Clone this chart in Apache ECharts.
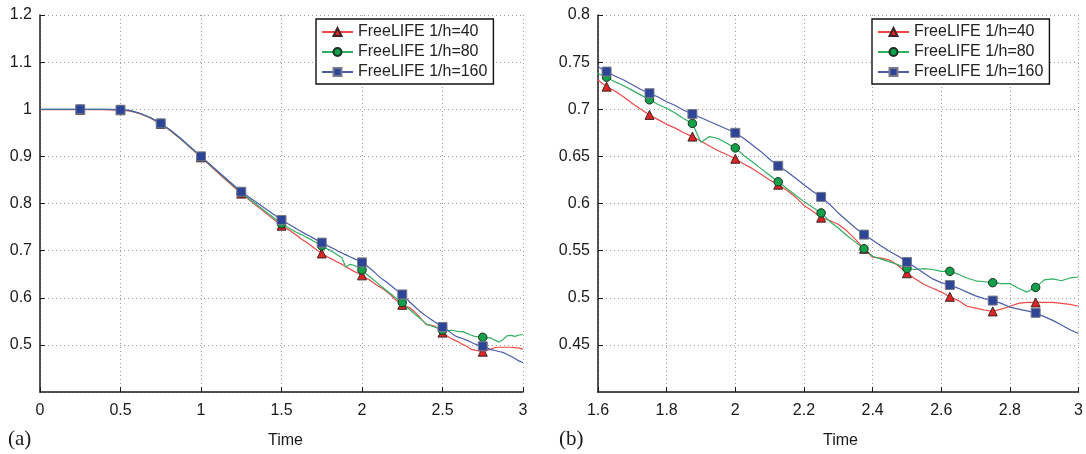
<!DOCTYPE html>
<html><head><meta charset="utf-8">
<script src="https://cdn.jsdelivr.net/npm/echarts@6/dist/echarts.min.js"></script>
<style>html,body{margin:0;padding:0;background:#fff}#c{width:1086px;height:454px}</style>
</head><body><div id="c"></div><script>
// ---- data ----
const time = [0,0.125,0.25,0.375,0.5,0.5625,0.625,0.6875,0.75,0.8125,0.875,0.9375,1,1.125,1.25,1.375,
 1.5,1.525,1.55,1.575,1.6,1.625,1.65,1.675,1.7,1.725,1.75,1.775,1.8,1.825,1.85,1.875,1.9,1.925,1.95,1.975,
 2,2.025,2.05,2.075,2.1,2.125,2.15,2.175,2.2,2.225,2.25,2.275,2.3,2.325,2.35,2.375,2.4,2.425,2.45,2.475,
 2.5,2.525,2.55,2.575,2.6,2.625,2.65,2.675,2.7,2.725,2.75,2.775,2.8,2.825,2.85,2.875,2.9,2.925,2.95,2.975,3];
const h40 = [0.999,0.999,0.999,0.999,0.998,0.996,0.990,0.981,0.969,0.954,0.936,0.917,0.898,0.859,0.821,0.787,
 0.753,0.748,0.743,0.737,0.731,0.724,0.719,0.713,0.706,0.700,0.694,0.689,0.684,0.680,0.675,0.671,0.666,0.661,0.656,0.652,
 0.6475,0.642,0.637,0.631,0.625,0.620,0.614,0.607,0.598,0.592,0.585,0.582,0.578,0.571,0.562,0.552,0.543,0.542,0.540,0.534,
 0.526,0.520,0.514,0.510,0.506,0.501,0.497,0.491,0.489,0.487,0.4855,0.488,0.491,0.494,0.495,0.495,0.495,0.495,0.494,0.493,0.491];
const h80 = [1,1,1,1,0.999,0.997,0.991,0.982,0.970,0.955,0.937,0.918,0.899,0.861,0.823,0.790,
 0.757,0.752,0.747,0.742,0.738,0.734,0.729,0.725,0.720,0.715,0.710,0.705,0.701,0.696,0.690,0.685,0.665,0.671,0.669,0.664,
 0.659,0.651,0.644,0.637,0.630,0.623,0.616,0.609,0.602,0.596,0.590,0.581,0.574,0.566,0.559,0.552,0.544,0.541,0.538,0.535,
 0.531,0.530,0.531,0.530,0.528,0.528,0.525,0.521,0.518,0.517,0.516,0.515,0.515,0.510,0.506,0.511,0.519,0.520,0.518,0.521,0.522];
const h160 = [1,1,1,1,0.999,0.997,0.991,0.982,0.970,0.955,0.938,0.919,0.900,0.862,0.825,0.795,
 0.765,0.760,0.755,0.750,0.745,0.740,0.735,0.731,0.726,0.721,0.717,0.713,0.708,0.704,0.699,0.695,0.691,0.687,0.683,0.679,
 0.675,0.669,0.662,0.655,0.647,0.640,0.634,0.627,0.620,0.613,0.607,0.599,0.590,0.582,0.574,0.567,0.561,0.555,0.549,0.544,
 0.538,0.532,0.526,0.520,0.516,0.5135,0.510,0.506,0.502,0.499,0.497,0.494,0.490,0.488,0.486,0.484,0.480,0.476,0.471,0.466,0.462];
const seriesNames = ['FreeLIFE 1/h=40','FreeLIFE 1/h=80','FreeLIFE 1/h=160'];
const panelLabels = ['(a)','(b)'];
const axisTitle = 'Time';

// ---- styling ----
const FONT = 'Liberation Sans';
const TXT = '#1a1a1a';
const styles = [
  {values:h40, line:'#f04848', fill:'#e02424', border:'#3a2626', symbol:'triangle', size:9},
  {values:h80, line:'#2fb060', fill:'#12a04a', border:'#1e2e22', symbol:'circle', size:8.5},
  {values:h160, line:'#4a5cab', fill:'#2c4596', border:'#7a7a86', symbol:'rect', size:9}
];
const panels = [
  {xmin:0, xmax:3, xint:0.5, ymin:0.4, ymax:1.2, yint:0.1, mstep:0.25, mfrom:0.25, mto:2.75,
   grid:{left:40, top:15, width:483, height:377}, legend:{left:316, top:19}, title:286, label:8},
  {xmin:1.6, xmax:3, xint:0.2, ymin:0.4, ymax:0.8, yint:0.05, mstep:0.125, mfrom:1.625, mto:2.875,
   grid:{left:598, top:15, width:481, height:377}, legend:{left:872, top:19}, title:841, label:559}
];

const grids=[], xAxes=[], yAxes=[], legends=[], series=[], graphics=[];
const fmt = v => String(+(+v).toFixed(3));
panels.forEach((p,g)=>{
  grids.push(Object.assign({containLabel:false}, p.grid));
  const split = {show:true, lineStyle:{color:'#9a9a9a', type:[1,3], width:1}};
  xAxes.push({type:'value', gridIndex:g, min:p.xmin, max:p.xmax, interval:p.xint,
    axisLine:{show:true, onZero:false, lineStyle:{color:TXT, width:1.5}},
    axisTick:{show:true, inside:true, length:5, lineStyle:{color:TXT}},
    axisLabel:{color:TXT, fontSize:16, fontFamily:FONT, margin:11, formatter:fmt},
    splitLine:split});
  yAxes.push({type:'value', gridIndex:g, min:p.ymin, max:p.ymax, interval:p.yint,
    axisLine:{show:true, onZero:false, lineStyle:{color:TXT, width:1.5}},
    axisTick:{show:true, inside:true, length:5, lineStyle:{color:TXT}},
    axisLabel:{color:TXT, fontSize:16, fontFamily:FONT, margin:8, showMinLabel:false, formatter:fmt},
    splitLine:split});
  legends.push({data:seriesNames, orient:'vertical', left:p.legend.left, top:p.legend.top,
    backgroundColor:'#fff', borderColor:'#111', borderWidth:1.4, borderRadius:0,
    padding:[5,6,4,5], itemGap:4, itemWidth:31, itemHeight:10, selectedMode:false,
    textStyle:{color:'#222', fontSize:16, fontFamily:FONT, lineHeight:16}});
  styles.forEach((s,i)=>{
    const pts = time.map((t,k)=>[t, s.values[k]]);
    series.push({type:'line', name:seriesNames[i], xAxisIndex:g, yAxisIndex:g, data:pts,
      showSymbol:false, symbol:s.symbol, symbolSize:s.size, clip:true, z:2+i*0.1,
      lineStyle:{color:s.line, width:1.2},
      itemStyle:{color:s.fill, borderColor:s.border, borderWidth:1},
      emphasis:{disabled:true}, silent:true});
  });
  styles.forEach((s,i)=>{
    const marks = time.map((t,k)=>[t, s.values[k]]).filter(([t])=>{
      const r = (t - p.mfrom)/p.mstep;
      return t >= p.mfrom-1e-9 && t <= p.mto+1e-9 && Math.abs(r-Math.round(r))<1e-9;
    });
    series.push({type:'scatter', name:seriesNames[i], xAxisIndex:g, yAxisIndex:g, data:marks,
      symbol:s.symbol, symbolSize:s.size, z:5+i*0.1,
      itemStyle:{color:s.fill, borderColor:s.border, borderWidth:1, opacity:1},
      emphasis:{disabled:true}, silent:true});
  });
  graphics.push({type:'text', left:p.title-18, top:433,
    style:{text:axisTitle, fontSize:16, fontFamily:FONT, fill:TXT}});
  graphics.push({type:'text', left:p.label, top:429,
    style:{text:panelLabels[g], fontSize:21, fontFamily:'Liberation Serif', fill:TXT}});
});

const chart = echarts.init(document.getElementById('c'), null, {renderer:'canvas'});
chart.setOption({animation:false, backgroundColor:'#fff', grid:grids, xAxis:xAxes, yAxis:yAxes,
  legend:legends, series:series, graphic:graphics});
</script></body></html>
